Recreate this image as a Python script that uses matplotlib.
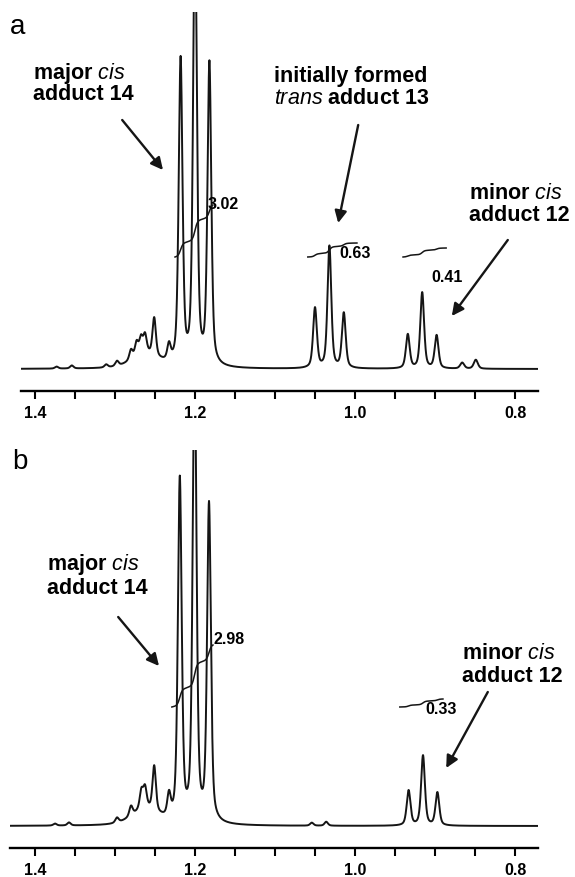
import numpy as np
import matplotlib.pyplot as plt

plt.rcParams['font.family'] = ['Liberation Sans', 'DejaVu Sans']
plt.rcParams['mathtext.fontset'] = 'custom'
plt.rcParams['mathtext.it'] = 'Liberation Sans:italic'
plt.rcParams['mathtext.rm'] = 'Liberation Sans:bold'
plt.rcParams['mathtext.bf'] = 'Liberation Sans:bold'

# peak lists: centre (ppm), height (a.u.), half width (ppm)
peaks_a_pos = [1.218, 1.200, 1.182, 1.262, 1.2325, 1.251, 1.2625, 1.2675, 1.273, 1.280,
               1.2975, 1.311, 1.354, 1.373, 1.050, 1.032, 1.014, 0.934, 0.916, 0.898,
               0.866, 0.849]
peaks_a_h = [305, 450, 302, 14, 16, 38, 18, 16, 14, 10,
             5, 3, 3, 2, 60, 122, 55, 34, 76, 33,
             6, 9]
peaks_a_w = [0.0028, 0.0028, 0.0028, 0.02, 0.0025, 0.0025, 0.0025, 0.0025, 0.0025, 0.0025,
             0.0025, 0.0025, 0.0025, 0.0025, 0.0028, 0.0028, 0.0028, 0.0028, 0.0028, 0.0028,
             0.003, 0.003]

peaks_b_pos = [1.219, 1.2005, 1.1825, 1.262, 1.2325, 1.251, 1.2625, 1.267, 1.280, 1.2975,
               1.3575, 1.375, 1.054, 1.036, 0.933, 0.915, 0.897]
peaks_b_h = [342, 470, 318, 16, 22, 45, 20, 18, 10, 5,
             3, 2, 3, 4, 35, 70, 33]
peaks_b_w = [0.0028, 0.0028, 0.0028, 0.02, 0.0025, 0.0025, 0.0025, 0.0025, 0.0025, 0.0025,
             0.0025, 0.0025, 0.0025, 0.0025, 0.0028, 0.0028, 0.0028]

# integrals: start ppm, end ppm, start level, rise, label, label ppm, label level
int_a_start = [1.225, 1.059, 0.940]
int_a_end = [1.1775, 0.9975, 0.886]
int_a_level = [112, 112, 112]
int_a_rise = [52, 14, 9]
int_a_text = ['3.02', '0.63', '0.41']
int_a_tx = [1.184, 1.019, 0.905]
int_a_ty = [164, 115, 91]

int_b_start = [1.229, 0.944]
int_b_end = [1.1775, 0.890]
int_b_level = [119, 119]
int_b_rise = [62, 8]
int_b_text = ['2.98', '0.33']
int_b_tx = [1.1775, 0.9125]
int_b_ty = [186, 116]

# annotation lines: text, ppm, level
lab_a = ['major $\\mathit{cis}$', 'adduct 14', 'initially formed', '$\\mathit{trans}$ adduct 13',
         'minor $\\mathit{cis}$', 'adduct 12']
lab_a_x = [1.4025, 1.4025, 1.101, 1.101, 0.8575, 0.8575]
lab_a_y = [290, 269, 287, 265, 170, 148]
lab_b = ['major $\\mathit{cis}$', 'adduct 14', 'minor $\\mathit{cis}$', 'adduct 12']
lab_b_x = [1.385, 1.385, 0.866, 0.866]
lab_b_y = [256, 232, 167, 144]

# arrows: tail (ppm, level) -> head (ppm, level)
arr_a = [((1.291, 249), (1.240, 199)), ((0.996, 244), (1.021, 146)), ((0.809, 129), (0.879, 53))]
arr_b = [((1.296, 209), (1.245, 160)), ((0.834, 134), (0.886, 58))]


def spectrum(x, pos, h, w):
    y = np.zeros_like(x)
    for c, a, g in zip(pos, h, w):
        d = ((x - c) / g) ** 2
        y += a * (0.5 / (1 + d) + 0.5 * np.exp(-np.log(2) * d))
    return y


def draw_panel(ax, xlim, ylim, pos, h, w, ints, labels, arrows):
    x = np.linspace(xlim[0], xlim[1], 6000)
    y = spectrum(x, pos, h, w)
    ax.plot(x, y, color='#151515', lw=1.4)

    for s, e, lev, rise, txt, tx, ty in zip(*ints):
        m = (x <= s) & (x >= e)
        xs = x[m]
        c = np.cumsum(y[m])
        c = (c - c[0]) / (c[-1] - c[0])
        ax.plot(xs, lev + rise * c, color='#151515', lw=1.1)
        ax.text(tx, ty, txt, fontsize=11.5, fontweight='bold', ha='left', va='center')

    for txt, lx, ly in zip(*labels):
        ax.text(lx, ly, txt, fontsize=15.5, fontweight='bold', ha='left', va='baseline')

    for tail, head in arrows:
        ax.annotate('', xy=head, xytext=tail,
                    arrowprops=dict(arrowstyle='-|>', color='#151515', lw=1.7,
                                    mutation_scale=18, shrinkA=0, shrinkB=0))

    ax.set_xlim(*xlim)
    ax.set_ylim(*ylim)
    for sp in ['left', 'right', 'top']:
        ax.spines[sp].set_visible(False)
    ax.spines['bottom'].set_linewidth(1.7)
    ax.set_yticks([])
    ax.set_xticks([1.4, 1.2, 1.0, 0.8])
    ax.set_xticks(np.arange(0.8, 1.45, 0.05), minor=True)
    ax.tick_params(axis='x', which='both', direction='out', length=6, width=1.5, pad=5)
    for t in ax.get_xticklabels():
        t.set_fontsize(11.5)
        t.set_fontweight('bold')


fig = plt.figure(figsize=(5.75, 8.77), dpi=100)
ax_a = fig.add_axes([21 / 575, 1 - 391 / 877, 517 / 575, 379 / 877])
ax_b = fig.add_axes([10 / 575, 1 - 848 / 877, 528 / 575, 398 / 877])

draw_panel(ax_a, (1.4175, 0.77125), (-22, 357), peaks_a_pos, peaks_a_h, peaks_a_w,
           (int_a_start, int_a_end, int_a_level, int_a_rise, int_a_text, int_a_tx, int_a_ty),
           (lab_a, lab_a_x, lab_a_y), arr_a)
draw_panel(ax_b, (1.43125, 0.77125), (-22, 376), peaks_b_pos, peaks_b_h, peaks_b_w,
           (int_b_start, int_b_end, int_b_level, int_b_rise, int_b_text, int_b_tx, int_b_ty),
           (lab_b, lab_b_x, lab_b_y), arr_b)

fig.text(10 / 575, 1 - 27 / 877, 'a', fontsize=20, ha='left', va='center')
fig.text(12 / 575, 1 - 462 / 877, 'b', fontsize=20, ha='left', va='center')

fig.savefig('out.png', dpi=100)
